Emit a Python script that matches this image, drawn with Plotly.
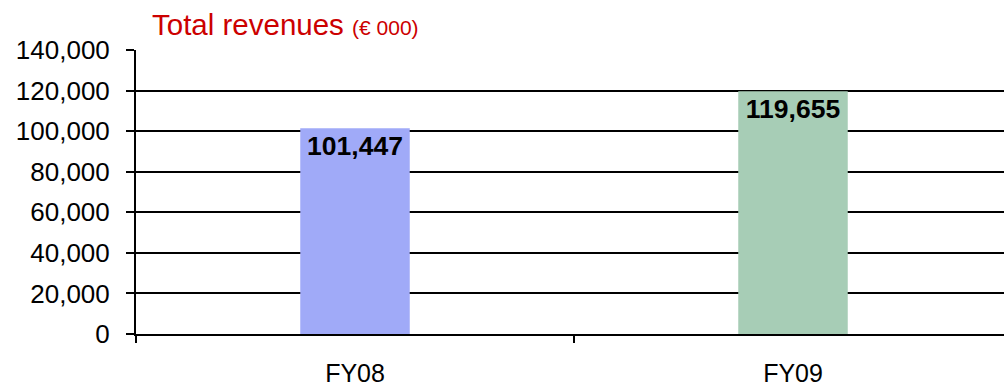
import plotly.graph_objects as go

categories = ["FY08", "FY09"]
revenues = [101447, 119655]
bar_colors = ["#A0AAF8", "#A7CDB6"]
y_ticks = [0, 20000, 40000, 60000, 80000, 100000, 120000, 140000]
y_tick_labels = ["0", "20,000", "40,000", "60,000", "80,000", "100,000", "120,000", "140,000"]

FONT = "Liberation Sans, Arial, sans-serif"

fig = go.Figure(
    go.Bar(
        x=categories,
        y=revenues,
        width=0.25,
        marker=dict(color=bar_colors, line=dict(width=0)),
        text=[f"{v:,}" for v in revenues],
        textposition="inside",
        insidetextanchor="end",
        constraintext="none",
        textangle=0,
        textfont=dict(family=FONT, size=26.5, color="black", weight="bold"),
        hoverinfo="skip",
    )
)

fig.update_layout(
    width=1004,
    height=386,
    margin=dict(l=136, r=0, t=50, b=52),
    plot_bgcolor="white",
    paper_bgcolor="white",
    showlegend=False,
    title=dict(
        text='Total revenues <span style="font-size:21px">(€ 000)</span>',
        font=dict(family=FONT, size=29.5, color="#CC0000"),
        x=152 / 1004,
        xanchor="left",
        xref="container",
        y=1 - 25 / 386,
        yanchor="middle",
        yref="container",
    ),
)

fig.update_xaxes(
    type="category",
    range=[-0.5, 1.5 - 8 / 438],
    showline=True,
    linecolor="black",
    linewidth=2,
    ticks="outside",
    tickson="boundaries",
    ticklen=7,
    tickwidth=2,
    tickcolor="black",
    showgrid=False,
    ticklabelstandoff=16,
    tickfont=dict(family=FONT, size=25, color="black"),
    fixedrange=True,
)

fig.update_yaxes(
    range=[0, 140000],
    tickvals=y_ticks,
    ticktext=y_tick_labels,
    showline=True,
    linecolor="black",
    linewidth=2,
    ticks="outside",
    ticklen=8,
    tickwidth=2,
    tickcolor="black",
    showgrid=True,
    gridcolor="black",
    gridwidth=2,
    zeroline=False,
    ticklabelstandoff=11,
    tickfont=dict(family=FONT, size=26, color="black"),
    fixedrange=True,
)

fig.write_html(
    "out.html",
    config={"displayModeBar": False},
    post_script="document.body.style.margin='0';document.body.style.padding='0';",
)
